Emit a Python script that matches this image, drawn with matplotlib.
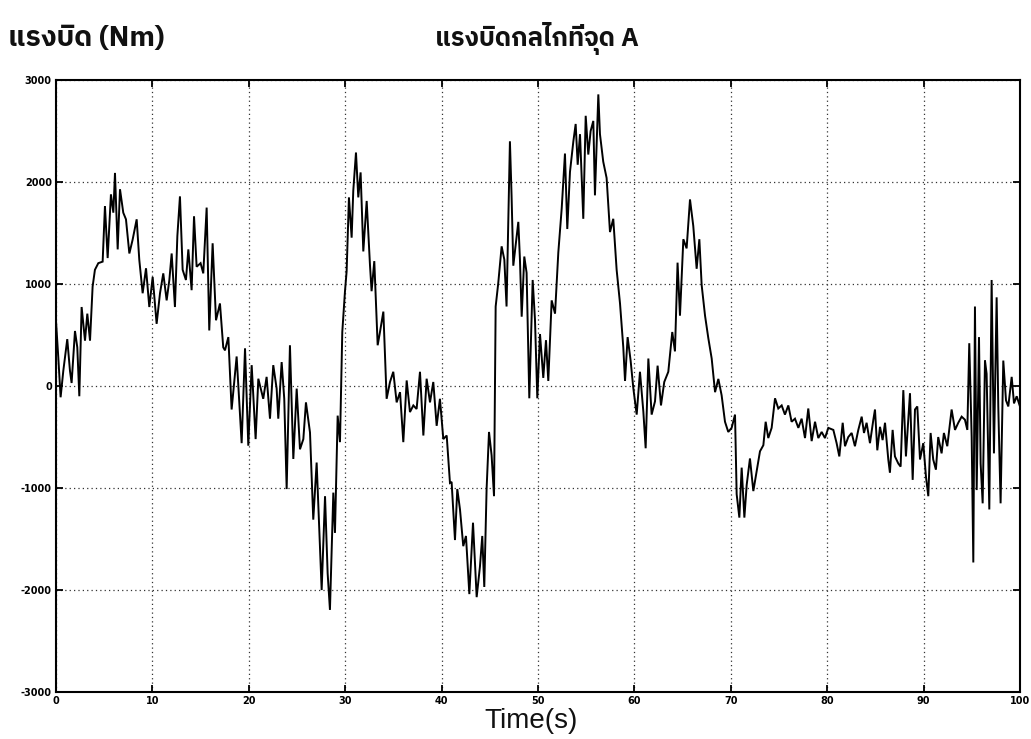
import matplotlib
matplotlib.use('Agg')
import matplotlib.pyplot as plt
from matplotlib import font_manager

# ---------------- data ----------------
time_s = [
    0.0, 0.24, 0.48, 0.76, 1.17, 1.45, 1.62, 1.97, 2.21, 2.42, 2.66, 3.01, 3.25, 3.53, 3.8,
    4.04, 4.39, 4.84, 5.08, 5.36, 5.7, 5.95, 6.12, 6.4, 6.64, 6.98, 7.26, 7.61, 7.95, 8.37,
    8.64, 8.99, 9.34, 9.68, 10.03, 10.44, 10.79, 11.13, 11.48, 11.76, 12.0, 12.34, 12.59, 12.86,
    13.14, 13.48, 13.73, 14.07, 14.32, 14.59, 15.0, 15.28, 15.63, 15.9, 16.25, 16.6, 17.01,
    17.35, 17.53, 17.88, 18.22, 18.74, 19.26, 19.61, 19.95, 20.3, 20.71, 20.99, 21.5, 21.85,
    22.2, 22.54, 22.89, 23.06, 23.41, 23.68, 23.93, 24.27, 24.62, 24.97, 25.31, 25.66, 25.93,
    26.35, 26.69, 27.04, 27.56, 27.91, 28.18, 28.42, 28.77, 28.94, 29.22, 29.46, 29.7, 29.98,
    30.15, 30.39, 30.67, 30.84, 31.12, 31.36, 31.6, 31.88, 32.23, 32.57, 32.74, 33.02, 33.37,
    33.61, 33.96, 34.3, 34.65, 34.99, 35.34, 35.69, 36.03, 36.38, 36.72, 37.07, 37.41, 37.76,
    38.11, 38.45, 38.8, 39.14, 39.49, 39.83, 40.18, 40.53, 40.87, 41.04, 41.39, 41.63, 41.91,
    42.25, 42.53, 42.88, 43.26, 43.64, 43.98, 44.22, 44.43, 44.67, 44.92, 45.19, 45.44, 45.61,
    45.88, 46.23, 46.51, 46.74, 47.09, 47.26, 47.44, 47.72, 47.96, 48.13, 48.31, 48.58, 48.82,
    49.1, 49.45, 49.69, 49.93, 50.21, 50.55, 50.83, 51.07, 51.42, 51.77, 52.11, 52.46, 52.8,
    53.04, 53.32, 53.67, 53.91, 54.12, 54.36, 54.7, 54.95, 55.22, 55.46, 55.74, 55.91, 56.26,
    56.43, 56.77, 57.12, 57.47, 57.81, 58.16, 58.51, 58.85, 59.03, 59.3, 59.61, 59.89, 60.24,
    60.58, 60.93, 61.17, 61.45, 61.79, 62.14, 62.41, 62.76, 63.1, 63.52, 63.93, 64.21, 64.48,
    64.73, 65.08, 65.42, 65.77, 66.11, 66.46, 66.74, 66.98, 67.33, 67.67, 68.02, 68.37, 68.71,
    69.05, 69.4, 69.74, 70.09, 70.44, 70.61, 70.89, 71.13, 71.41, 71.65, 71.99, 72.34, 72.68,
    73.03, 73.38, 73.62, 73.89, 74.24, 74.59, 74.93, 75.28, 75.62, 75.97, 76.31, 76.66, 77.01,
    77.35, 77.7, 78.04, 78.39, 78.74, 79.08, 79.43, 79.77, 80.12, 80.64, 80.98, 81.26, 81.61,
    81.85, 82.19, 82.54, 82.88, 83.23, 83.58, 83.82, 84.09, 84.44, 84.79, 84.96, 85.2, 85.48,
    85.75, 86.0, 86.34, 86.51, 86.79, 87.03, 87.38, 87.62, 87.9, 88.17, 88.59, 88.87, 89.11,
    89.35, 89.63, 89.97, 90.25, 90.49, 90.73, 91.0, 91.28, 91.52, 91.87, 92.11, 92.46, 92.91,
    93.26, 93.6, 93.95, 94.29, 94.54, 94.74, 94.99, 95.16, 95.33, 95.51, 95.75, 95.92, 96.13,
    96.37, 96.54, 96.82, 97.06, 97.3, 97.58, 97.75, 97.99, 98.27, 98.55, 98.79, 99.14, 99.38,
    99.66, 100.0,
]
torque_nm = [
    640, 280, -110, 150, 460, 150, 30, 540, 380, -100, 775, 445, 710, 445, 975,
    1140, 1205, 1220, 1765, 1255, 1880, 1700, 2090, 1340, 1930, 1700, 1635, 1300, 1435, 1635,
    1240, 910, 1155, 775, 1070, 610, 910, 1105, 840, 1040, 1300, 775, 1470, 1860,
    1140, 1040, 1340, 940, 1665, 1170, 1205, 1105, 1750, 545, 1400, 645, 810,
    380, 350, 480, -230, 290, -560, 370, -585, 205, -520, 72, -125, 90,
    -320, 205, -25, -320, 235, -125, -1010, 400, -715, -25, -620, -520, -160,
    -455, -1310, -750, -2000, -1080, -1835, -2195, -1045, -1440, -290, -550, 530, 930,
    1125, 1850, 1455, 1915, 2290, 1850, 2095, 1320, 1815, 1190, 930, 1225, 400,
    530, 730, -125, 40, 140, -160, -60, -550, 55, -255, -190, -225, 140,
    -485, 72, -160, 40, -390, -125, -520, -485, -950, -940, -1510, -1010, -1210,
    -1570, -1470, -2040, -1340, -2070, -1770, -1470, -1970, -1010, -450, -680, -1080, 780,
    1010, 1370, 1240, 780, 2400, 1870, 1180, 1410, 1610, 1240, 680, 1270, 1110,
    -120, 1040, 650, -120, 510, 80, 450, 50, 840, 710, 1310, 1740, 2280,
    1540, 2100, 2400, 2570, 2170, 2470, 1640, 2650, 2270, 2500, 2600, 1870, 2860,
    2470, 2200, 2040, 1510, 1640, 1140, 810, 380, 50, 480, 250, -20, -280,
    140, -250, -610, 270, -280, -150, 200, -190, 40, 140, 530, 340, 1210,
    690, 1440, 1350, 1830, 1570, 1150, 1440, 990, 690, 470, 270, -60, 70,
    -90, -350, -450, -410, -280, -1060, -1290, -800, -1290, -970, -710, -1030, -840,
    -640, -580, -350, -510, -410, -120, -220, -190, -280, -190, -350, -320, -410,
    -320, -510, -220, -540, -350, -510, -450, -510, -410, -430, -560, -690, -360,
    -590, -500, -460, -590, -430, -300, -460, -360, -560, -330, -230, -630, -400,
    -530, -360, -720, -850, -430, -690, -760, -790, -40, -690, -70, -920, -230,
    -200, -720, -560, -890, -1080, -460, -720, -820, -500, -660, -460, -590, -230,
    -430, -360, -300, -330, -430, 420, -500, -1730, 780, -1020, 480, -760, -1150,
    250, 120, -1210, 1040, -660, 870, -200, -1150, 250, -140, -200, 90, -170,
    -100, -200,
]
x_ticks = [0, 10, 20, 30, 40, 50, 60, 70, 80, 90, 100]
x_tick_labels = ['0', '10', '20', '30', '40', '50', '60', '70', '80', '90', '100']
y_ticks = [-3000, -2000, -1000, 0, 1000, 2000, 3000]
y_tick_labels = ['-3000', '-2000', '-1000', '0', '1000', '2000', '3000']
title_text = 'แรงบิดกลไกที่จุด A'
ylabel_text = 'แรงบิด (Nm)'
xlabel_text = 'Time(s)'


# ---------------- fonts ----------------
def thai_families():
    names = []
    try:
        from fontTools.ttLib import TTFont
    except Exception:
        return names
    for f in font_manager.fontManager.ttflist:
        try:
            kw = {'fontNumber': 0} if f.fname.lower().endswith(('.ttc', '.otc')) else {}
            tt = TTFont(f.fname, lazy=True, **kw)
            cmap = tt.getBestCmap()
            if cmap and 0x0E41 in cmap and 0x0E1A in cmap and 0x0E34 in cmap:
                if f.name not in names:
                    names.append(f.name)
        except Exception:
            pass
    names.sort(key=lambda n: (0 if 'Sans' in n else 1, 0 if 'Looped' not in n else 1))
    return names


thai = thai_families()
thai_family = thai[:1] + ['DejaVu Sans']

# ---------------- figure ----------------
fig = plt.figure(figsize=(10.31, 7.39), dpi=100)
fig.patch.set_facecolor('white')
ax = fig.add_axes([0.0543, 0.0636, 0.935, 0.828])

ax.plot(time_s, torque_nm, color='black', lw=1.4, solid_joinstyle='miter')

ax.set_xlim(0, 100)
ax.set_ylim(-3000, 3000)
ax.set_xticks(x_ticks)
ax.set_xticklabels(x_tick_labels)
ax.set_yticks(y_ticks)
ax.set_yticklabels(y_tick_labels)

ax.grid(True, color='#333333', linestyle=(0, (1, 2.5)), lw=0.9)
ax.tick_params(direction='in', length=5, width=1.3, top=True, right=True,
               labelsize=7, pad=3, colors='black')
for lab in ax.get_xticklabels() + ax.get_yticklabels():
    lab.set_fontweight('bold')
for sp in ax.spines.values():
    sp.set_linewidth(1.5)
    sp.set_color('black')

fig.text(0.5205, 0.948, title_text, ha='center', va='center', fontsize=18.5,
         family=thai_family, weight='bold', color='#111111')
fig.text(0.008, 0.948, ylabel_text, ha='left', va='center', fontsize=20.5,
         family=thai_family, weight='bold', color='#111111')
fig.text(0.515, 0.025, xlabel_text, ha='center', va='center', fontsize=20,
         family=['Liberation Sans', 'DejaVu Sans'], color='#111111')

fig.savefig('out.png', dpi=100, facecolor='white')
